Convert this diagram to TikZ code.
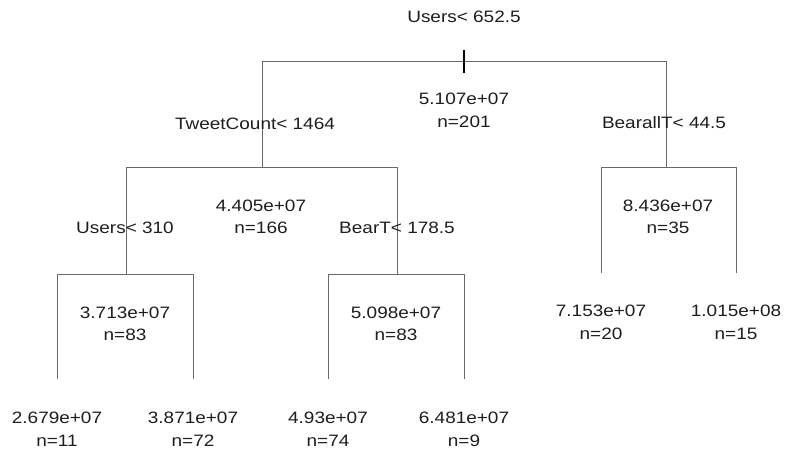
\documentclass[tikz,border=0pt]{standalone}
\usepackage{fontspec}
\setmainfont{Liberation Sans}[FakeStretch=1.15]
\begin{document}
\begin{tikzpicture}[x=1pt,y=-1pt,
  branch/.style={draw={rgb,255:red,105;green,105;blue,105}, line width=1pt},
  rootmark/.style={draw=black, line width=1.6pt},
  lbl/.style={anchor=base, inner sep=0pt, text={rgb,255:red,30;green,30;blue,30},
              font=\fontsize{16.5}{20}\selectfont}]
\useasboundingbox[fill=white] (0,0) rectangle (785,450);

% split points and branch ends
\coordinate (r)  at (464,61);
\coordinate (rl) at (262,61);  \coordinate (rr) at (666,61);
\coordinate (rt) at (464,50);  \coordinate (rb) at (464,73);
\coordinate (a)  at (262,167);
\coordinate (al) at (126,167); \coordinate (ar) at (397,167);
\coordinate (b)  at (666,167);
\coordinate (bl) at (601,167); \coordinate (br) at (736,167);
\coordinate (c)  at (126,274);
\coordinate (cl) at (57,274);  \coordinate (cr) at (193,274);
\coordinate (d)  at (397,274);
\coordinate (dl) at (328,274); \coordinate (dr) at (464,274);
\coordinate (l1) at (57,379);  \coordinate (l2) at (193,379);
\coordinate (l3) at (328,379); \coordinate (l4) at (464,379);
\coordinate (l5) at (601,273); \coordinate (l6) at (736,273);

% branches
\draw[branch] (rl) -- (rr);
\draw[branch] (rl) -- (a);
\draw[branch] (rr) -- (b);
\draw[branch] (al) -- (ar);
\draw[branch] (al) -- (c);
\draw[branch] (ar) -- (d);
\draw[branch] (bl) -- (br);
\draw[branch] (bl) -- (l5);
\draw[branch] (br) -- (l6);
\draw[branch] (cl) -- (cr);
\draw[branch] (cl) -- (l1);
\draw[branch] (cr) -- (l2);
\draw[branch] (dl) -- (dr);
\draw[branch] (dl) -- (l3);
\draw[branch] (dr) -- (l4);
\draw[rootmark] (rt) -- (rb);

% split rules
\node[lbl] (s0) at (464,22)  {Users< 652.5};
\node[lbl] (s1) at (255,129) {TweetCount< 1464};
\node[lbl] (s2) at (664,128) {BearallT< 44.5};
\node[lbl] (s3) at (125,233) {Users< 310};
\node[lbl] (s4) at (397,233) {BearT< 178.5};

% fitted values and counts
\node[lbl] (v0) at (464,104) {5.107e+07};  \node[lbl] (n0) at (464,127) {n=201};
\node[lbl] (v1) at (261,211) {4.405e+07};  \node[lbl] (n1) at (261,233) {n=166};
\node[lbl] (v2) at (668,211) {8.436e+07};  \node[lbl] (n2) at (668,233) {n=35};
\node[lbl] (v3) at (125,318) {3.713e+07};  \node[lbl] (n3) at (125,340) {n=83};
\node[lbl] (v4) at (396,318) {5.098e+07};  \node[lbl] (n4) at (396,340) {n=83};
\node[lbl] (v5) at (601,316) {7.153e+07};  \node[lbl] (n5) at (601,339) {n=20};
\node[lbl] (v6) at (736,316) {1.015e+08};  \node[lbl] (n6) at (736,339) {n=15};
\node[lbl] (v7) at (57,423)  {2.679e+07};  \node[lbl] (n7) at (57,446)  {n=11};
\node[lbl] (v8) at (193,423) {3.871e+07};  \node[lbl] (n8) at (193,446) {n=72};
\node[lbl] (v9) at (328,423) {4.93e+07};   \node[lbl] (n9) at (328,446) {n=74};
\node[lbl] (v10) at (464,423) {6.481e+07}; \node[lbl] (n10) at (464,446) {n=9};
\end{tikzpicture}
\end{document}
